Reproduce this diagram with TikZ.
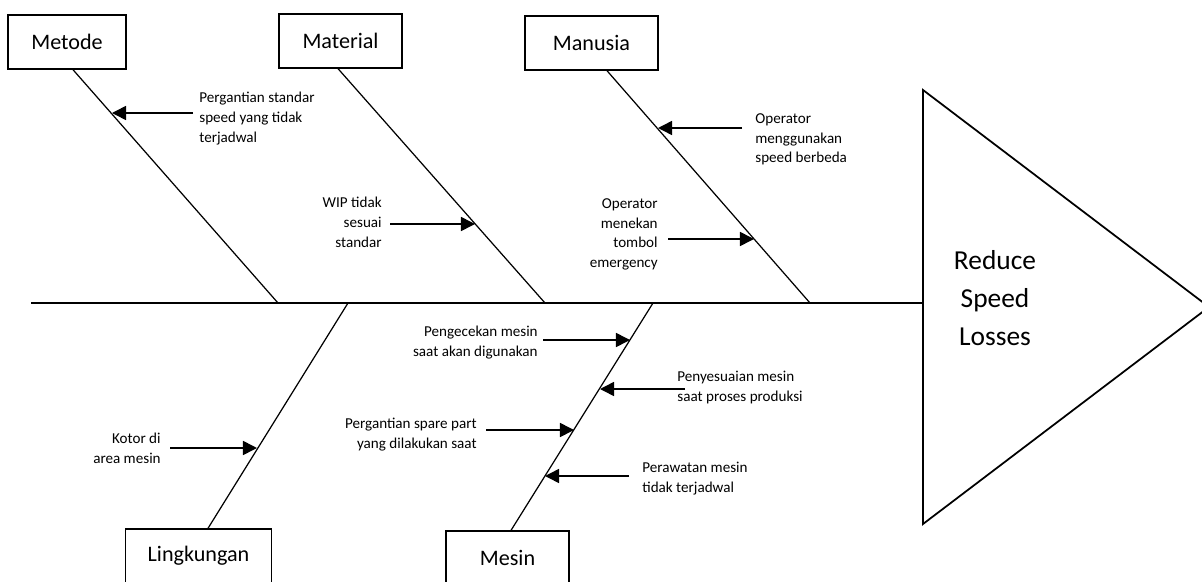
\documentclass[tikz,border=0pt]{standalone}
\usepackage{fontspec}
\setmainfont{Carlito}
\usetikzlibrary{arrows.meta}

\begin{document}
\begin{tikzpicture}[x=0.02cm,y=-0.02cm,
  cat/.style={draw,line width=0.9pt,minimum height=30.6pt,inner sep=0pt,font=\fontsize{12.6}{15}\selectfont},
  cause/.style={inner sep=0pt,font=\fontsize{8.6}{11.3}\selectfont},
  bone/.style={line width=0.7pt},
  hit/.style={line width=0.9pt,-{Triangle[length=8pt,width=8pt]}}]
\useasboundingbox (0,0) rectangle (1202,581);
\node[cat,minimum width=66.9pt](met) at (67,42){Metode};
\node[cat,minimum width=69.7pt](mat) at (340.5,41){Material};
\node[cat,minimum width=75.4pt](man) at (591.5,43){Manusia};
\node[cat,minimum width=83.3pt](lin) at (198.5,556){Lingkungan};
\node[cat,minimum width=69.7pt](mes) at (507.5,558){Mesin};
\node[font=\fontsize{15.6}{21.5}\selectfont,align=center](eff) at (995,298){Reduce\\Speed\\Losses};
\draw[line width=1pt] (923,90) -- (1209,307) -- (923,524) -- cycle;
\coordinate (tail) at (31,303);
\coordinate (head) at (923,303);
\coordinate (s1) at (278,303);
\coordinate (s2) at (545,303);
\coordinate (s3) at (810,303);
\coordinate (s4) at (348,303);
\coordinate (s5) at (653,303);
\draw[line width=1.3pt] (tail) -- (head);
\draw[bone] ([xshift=3.4pt]met.south) -- (s1);
\draw[bone] ([xshift=-1.4pt]mat.south) -- (s2);
\draw[bone] ([xshift=8.8pt]man.south) -- (s3);
\draw[bone] ([xshift=5.4pt]lin.north) -- (s4);
\draw[bone] ([xshift=2pt]mes.north) -- (s5);
\node[cause,anchor=north west,align=left](c1) at (199,92){Pergantian standar\\speed yang tidak\\terjadwal};
\node[cause,anchor=north east,align=right](c2) at (382,197){WIP tidak\\sesuai\\standar};
\node[cause,anchor=north west,align=left](c3) at (755,113){Operator\\menggunakan\\speed berbeda};
\node[cause,anchor=north east,align=right](c4) at (658,198){Operator\\menekan\\tombol\\emergency};
\node[cause,anchor=north east,align=right](c5) at (161,433){Kotor di\\area mesin};
\node[cause,anchor=north east,align=right](c6) at (538,326){Pengecekan mesin\\saat akan digunakan};
\node[cause,anchor=north west,align=left](c7) at (677,371){Penyesuaian mesin\\saat proses produksi};
\node[cause,anchor=north east,align=right](c8) at (477,418){Pergantian spare part\\yang dilakukan saat};
\node[cause,anchor=north west,align=left](c9) at (642,462){Perawatan mesin\\tidak terjadwal};
\coordinate (f1) at (193,113);
\coordinate (a1) at (112,113);
\coordinate (f2) at (390,224);
\coordinate (a2) at (475,224);
\coordinate (f3) at (742,128);
\coordinate (a3) at (658,128);
\coordinate (f4) at (668,239);
\coordinate (a4) at (754,239);
\coordinate (f5) at (170,448);
\coordinate (a5) at (257,448);
\coordinate (f6) at (543,340);
\coordinate (a6) at (630,340);
\coordinate (f7) at (685,389);
\coordinate (a7) at (600,389);
\coordinate (f8) at (486,430);
\coordinate (a8) at (574,430);
\coordinate (f9) at (629,476);
\coordinate (a9) at (545,476);
\draw[hit] (f1) -- (a1);
\draw[hit] (f2) -- (a2);
\draw[hit] (f3) -- (a3);
\draw[hit] (f4) -- (a4);
\draw[hit] (f5) -- (a5);
\draw[hit] (f6) -- (a6);
\draw[hit] (f7) -- (a7);
\draw[hit] (f8) -- (a8);
\draw[hit] (f9) -- (a9);
\end{tikzpicture}
\end{document}
